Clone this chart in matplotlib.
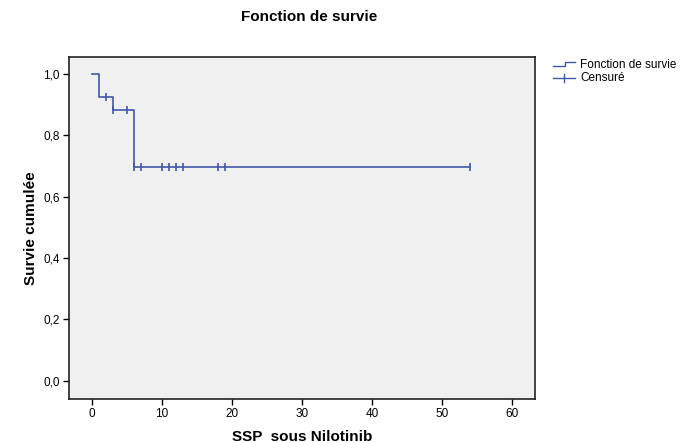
import matplotlib
matplotlib.use('Agg')
import matplotlib.pyplot as plt
from matplotlib.lines import Line2D

plt.rcParams['font.family'] = ['Liberation Sans', 'DejaVu Sans']

# Kaplan-Meier step function (time, survival)
step_t = [0, 1, 3, 6, 54]
step_s = [1.0, 0.923, 0.883, 0.697, 0.697]
# censored observations
cens_t = [2, 3, 5, 6, 7, 10, 11, 12, 13, 18, 19, 54]
cens_s = [0.923, 0.883, 0.883, 0.697, 0.697, 0.697, 0.697, 0.697, 0.697, 0.697, 0.697, 0.697]

xticks = [0, 10, 20, 30, 40, 50, 60]
yticks = [0.0, 0.2, 0.4, 0.6, 0.8, 1.0]

col = '#4257a8'

fig = plt.figure(figsize=(6.96, 4.43), dpi=100)
ax = fig.add_axes([69/696, 1 - 399/443, (535 - 69)/696, (399 - 57)/443])
ax.set_facecolor('#f0f0f0')

ax.step(step_t, step_s, where='post', color=col, lw=1.2)
ax.plot(cens_t, cens_s, ls='none', marker='|', ms=6, mew=1.2, color=col)

ax.set_xlim(-3.3, 63.3)
ax.set_ylim(-0.059, 1.054)
ax.set_xticks(xticks)
ax.set_xticklabels([str(v) for v in xticks], fontsize=8.5)
ax.set_yticks(yticks)
ax.set_yticklabels([('%.1f' % v).replace('.', ',') for v in yticks], fontsize=8.5)
ax.tick_params(length=4.5, width=1, color='black', pad=2)
for s in ax.spines.values():
    s.set_linewidth(1.2)
    s.set_color('#222222')

ax.set_xlabel('SSP  sous Nilotinib', fontsize=11, fontweight='bold', va='center')
ax.xaxis.set_label_coords(0.5, -38/342)
ax.set_ylabel('Survie cumulée', fontsize=11, fontweight='bold', va='center')
ax.yaxis.set_label_coords(-38/466, 0.5)
fig.text(309/696, 1 - 17/443, 'Fonction de survie', ha='center', va='center',
         fontsize=11, fontweight='bold')

# legend drawn by hand (figure pixel coords)
W, H = 696, 443
fig.add_artist(Line2D([553/W, 565/W, 565/W, 575/W],
                      [1 - 66/H, 1 - 66/H, 1 - 62/H, 1 - 62/H],
                      color=col, lw=1.0, transform=fig.transFigure))
fig.add_artist(Line2D([553/W, 575/W], [1 - 78/H, 1 - 78/H],
                      color=col, lw=1.0, transform=fig.transFigure))
fig.add_artist(Line2D([564/W, 564/W], [1 - 74/H, 1 - 82/H],
                      color=col, lw=1.0, transform=fig.transFigure))
fig.text(580/W, 1 - 65/H, 'Fonction de survie', fontsize=8.5, va='center')
fig.text(580/W, 1 - 78/H, 'Censuré', fontsize=8.5, va='center')

fig.savefig('out.png', dpi=100, facecolor='white')
